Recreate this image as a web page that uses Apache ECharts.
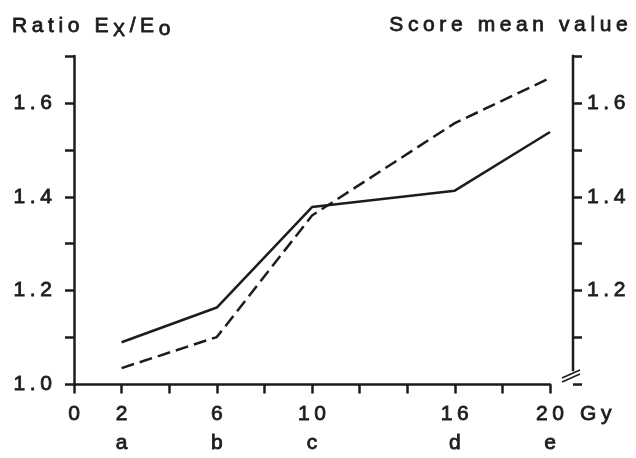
<!DOCTYPE html>
<html><head><meta charset="utf-8">
<script src="https://cdn.jsdelivr.net/npm/echarts@6/dist/echarts.min.js"></script>
<style>html,body{margin:0;padding:0;background:#fff}#c{width:636px;height:458px}</style>
</head><body><div id="c"></div>
<script>
// ---- data ----
const doses = [2, 6, 10, 16, 20];
const groups = ['a', 'b', 'c', 'd', 'e'];
const ratioValues = [1.090, 1.164, 1.378, 1.413, 1.538];   // solid, left axis
const scoreValues = [1.035, 1.101, 1.360, 1.557, 1.653];   // dashed, right axis
const xTickLabels = [0, 2, 6, 10, 16, 20];
const leftTickLabels = [1.0, 1.2, 1.4, 1.6];
const rightTickLabels = [1.2, 1.4, 1.6];
const leftTitle = 'Ratio E';
const rightTitle = 'Score mean value';
const xUnit = 'Gy';

// wide letter spacing like the original typeface
const LSN = 4.6;
const LS = LSN + 'px';
const P = CanvasRenderingContext2D.prototype;
['fillText', 'strokeText', 'measureText'].forEach(fn => {
  const o = P[fn];
  P[fn] = function () { this.letterSpacing = LS; return o.apply(this, arguments); };
});

const INK = '#1c1c1c';
const FONT = "'Liberation Sans', Arial, sans-serif";
const FS = 21;
const BW = 0.8;
const txt = {fontSize: FS, fontFamily: FONT, color: INK, fontWeight: 'normal', textBorderColor: INK, textBorderWidth: BW};
const near = (arr, v) => arr.some(t => Math.abs(t - v) < 1e-6);

const chart = echarts.init(document.getElementById('c'), null, {renderer: 'canvas', width: 636, height: 458});

const axisCommon = {
  type: 'value', min: 1.0, max: 1.7, interval: 0.1,
  splitLine: {show: false},
  axisTick: {show: true, length: 9, lineStyle: {color: INK, width: 2.5}},
};

const option = {
  animation: false,
  backgroundColor: '#fff',
  textStyle: {fontFamily: FONT, color: INK},
  grid: {left: 74, right: 86, top: 56, bottom: 67.5, containLabel: false},
  title: [
    {
      text: '{m|' + leftTitle + '}{s|X}{m|/E}{o|o}',
      left: 12, top: 13.5, padding: 0,
      textStyle: {
        fontWeight: 'normal',
        rich: {
          m: Object.assign({}, txt, {lineHeight: 24, verticalAlign: 'top'}),
          s: Object.assign({}, txt, {fontSize: 18, lineHeight: 24, verticalAlign: 'top', padding: [6, 0, 0, 0]}),
          o: Object.assign({}, txt, {lineHeight: 24, verticalAlign: 'top', padding: [3, 0, 0, 0]})
        }
      }
    },
    {
      text: rightTitle, right: 3, top: 13.5, padding: 0,
      textStyle: Object.assign({}, txt, {lineHeight: 24})
    }
  ],
  xAxis: {
    type: 'value', min: 0, max: 20, interval: 2,
    splitLine: {show: false},
    axisLine: {show: true, onZero: false, lineStyle: {color: INK, width: 2.5}},
    axisTick: {show: true, length: 9, lineStyle: {color: INK, width: 2.5}},
    axisLabel: Object.assign({}, txt, {
      lineHeight: 29, margin: 15.5, padding: [0, 0, 0, LSN],
      formatter: v => {
        if (!near(xTickLabels, v)) return '';
        const i = doses.findIndex(d => Math.abs(d - v) < 1e-6);
        return i >= 0 ? v + '\n' + groups[i] : String(v);
      }
    }),
    name: xUnit, nameLocation: 'end', nameGap: 30,
    nameTextStyle: Object.assign({}, txt, {align: 'left', verticalAlign: 'top', lineHeight: 29, padding: [15.5, 0, 0, 0]})
  },
  yAxis: [
    Object.assign({}, axisCommon, {
      position: 'left',
      axisLine: {show: true, lineStyle: {color: INK, width: 2.5}},
      axisLabel: Object.assign({}, txt, {margin: 17.5,
        formatter: v => near(leftTickLabels, v) ? v.toFixed(1) : ''})
    }),
    Object.assign({}, axisCommon, {
      position: 'right', offset: 23,
      axisLine: {show: false},
      axisLabel: Object.assign({}, txt, {margin: 14,
        formatter: v => near(rightTickLabels, v) ? v.toFixed(1) : ''})
    })
  ],
  series: [
    {
      type: 'line', yAxisIndex: 0, symbol: 'none',
      data: doses.map((d, i) => [d, ratioValues[i]]),
      lineStyle: {color: INK, width: 2.5}
    },
    {
      type: 'line', yAxisIndex: 1, symbol: 'none',
      data: doses.map((d, i) => [d, scoreValues[i]]),
      lineStyle: {color: INK, width: 2.5, type: [13, 6]}
    }
  ]
};
chart.setOption(option);

// right axis line (stops short of 1.0) and break marks, placed through the axis scale
const xEnd = chart.convertToPixel({xAxisIndex: 0}, 20);
const xR = xEnd + 23;
const yTop = chart.convertToPixel({yAxisIndex: 1}, 1.7);
const yStop = chart.convertToPixel({yAxisIndex: 1}, 1.028);
const yBrk = chart.convertToPixel({yAxisIndex: 1}, 1.018);
chart.setOption({
  graphic: [
    {type: 'line', shape: {x1: xR, y1: yTop - 1.25, x2: xR, y2: yStop}, style: {stroke: INK, lineWidth: 2.5}},
    {type: 'line', shape: {x1: xR - 11, y1: yBrk + 2, x2: xR + 7, y2: yBrk - 6}, style: {stroke: INK, lineWidth: 1.5}},
    {type: 'line', shape: {x1: xR - 11, y1: yBrk + 6, x2: xR + 7, y2: yBrk - 2}, style: {stroke: INK, lineWidth: 1.5}}
  ]
});
</script>
</body></html>
